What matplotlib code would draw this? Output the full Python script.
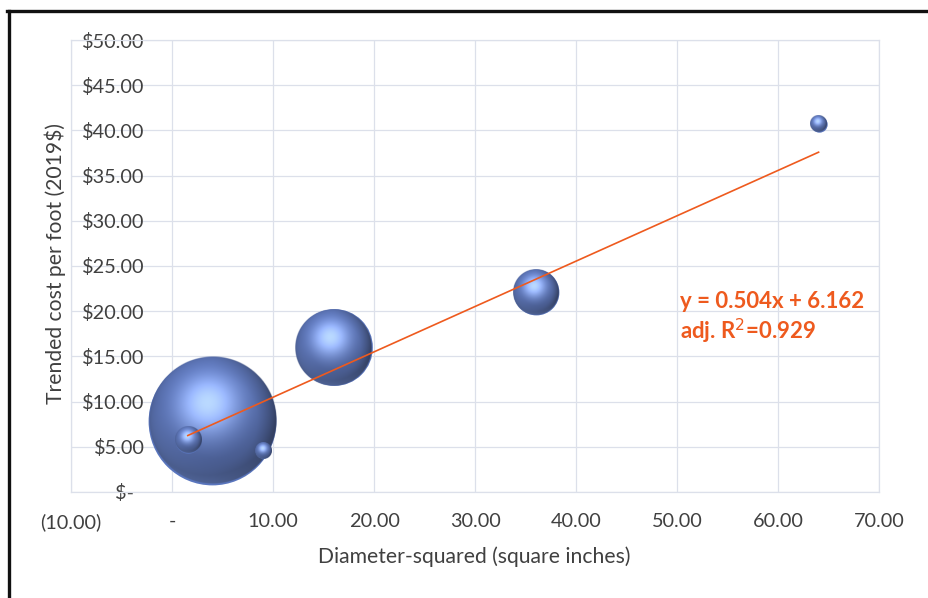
import numpy as np
import matplotlib
matplotlib.use('Agg')
import matplotlib.pyplot as plt
from matplotlib.lines import Line2D

plt.rcParams['font.family'] = ['Lato', 'DejaVu Sans']

# pipe diameter squared vs trended cost, bubble size = relative weight
diam_sq = [4.0, 1.5625, 9.0, 16.0, 36.0, 64.0]
cost_per_foot = [7.9, 5.8, 4.6, 16.0, 22.1, 40.7]
bubble_size = [60.7, 2.6, 1.0, 21.9, 7.8, 1.0]

# trendline as drawn on the chart, and the label printed next to it
trend_slope = 0.502
trend_intercept = 5.46
eq_text = 'y = 0.504x + 6.162'
r2_text = 'adj. R$^2$=0.929'

x_ticks = [-10, 0, 10, 20, 30, 40, 50, 60, 70]
x_tick_labels = ['(10.00)', '-', '10.00', '20.00', '30.00', '40.00', '50.00', '60.00', '70.00']
y_ticks = [0, 5, 10, 15, 20, 25, 30, 35, 40, 45, 50]
y_tick_labels = ['$-  ', '$5.00', '$10.00', '$15.00', '$20.00', '$25.00',
                 '$30.00', '$35.00', '$40.00', '$45.00', '$50.00']

text_col = '#404040'
grid_col = '#DCE0EA'
orange = '#EE5A1E'


def sphere_rgba(n=240):
    # shaded ball like excel's 3-D bubble
    yy, xx = np.mgrid[1:-1:n * 1j, -1:1:n * 1j]
    rr = np.sqrt(xx ** 2 + yy ** 2)
    z = np.sqrt(np.clip(1 - rr ** 2, 0, 1))
    L = np.array([-0.15, 0.5, 0.85])
    L = L / np.linalg.norm(L)
    diff = np.clip(xx * L[0] + yy * L[1] + z * L[2], 0, 1)
    H = L + np.array([0, 0, 1.0])
    H = H / np.linalg.norm(H)
    spec = np.clip(xx * H[0] + yy * H[1] + z * H[2], 0, 1) ** 9
    base = np.array([0.38, 0.48, 0.75])
    col = base * (0.62 + 0.42 * diff)[..., None] + np.array([0.34, 0.36, 0.36]) * spec[..., None]
    # lighter band along the lower left rim
    glow = np.clip(-yy - 0.3 * xx, 0, 1) * np.clip(rr - 0.6, 0, 1) * 0.5
    col = col + glow[..., None] * np.array([0.35, 0.42, 0.55])
    # darker, greyer right edge
    shade = np.clip(xx, 0, 1) * np.clip(rr - 0.7, 0, 1) * 0.75
    col = col * (1 - shade)[..., None] + shade[..., None] * 0.08
    col = np.clip(col, 0, 1)
    alpha = np.clip((1 - rr) * n / 2, 0, 1)
    return np.dstack([col, alpha])


fig = plt.figure(figsize=(9.29, 5.98), dpi=100)
ax = fig.add_axes([0.0764, 0.1773, 0.87, 0.7558])
ax.set_xlim(-10, 70)
ax.set_ylim(0, 50)

ax.set_xticks(x_ticks)
ax.set_xticklabels(x_tick_labels)
ax.set_yticks(y_ticks)
ax.set_yticklabels(y_tick_labels)
ax.grid(True, color=grid_col, linewidth=0.9)
ax.set_axisbelow(True)
for sp in ax.spines.values():
    sp.set_color(grid_col)
    sp.set_linewidth(0.9)
ax.tick_params(axis='x', length=0, labelsize=14.3, colors=text_col, pad=15)
# y labels sit next to the x=0 line, inside the plot area
ax.tick_params(axis='y', length=0, labelsize=14.3, colors=text_col, pad=-53)

# bubbles, largest first so the small ones end up on top
scale = 139.5
order = np.argsort(bubble_size)[::-1]
px_x = ax.transData.transform((1, 0))[0] - ax.transData.transform((0, 0))[0]
px_y = ax.transData.transform((0, 1))[1] - ax.transData.transform((0, 0))[1]
ball = sphere_rgba()
z = 3
for i in order:
    s = bubble_size[i] * scale
    ax.scatter(diam_sq[i], cost_per_foot[i], s=s, color='#5A76BE', linewidth=0, zorder=z)
    r_px = np.sqrt(s) / 2 * fig.dpi / 72
    rx = r_px / px_x
    ry = r_px / px_y
    ax.imshow(ball, extent=(diam_sq[i] - rx, diam_sq[i] + rx, cost_per_foot[i] - ry, cost_per_foot[i] + ry),
              zorder=z + 0.5, aspect='auto', interpolation='bilinear')
    z += 1
ax.set_xlim(-10, 70)
ax.set_ylim(0, 50)

tx = np.array([min(diam_sq), max(diam_sq)])
ax.plot(tx, trend_slope * tx + trend_intercept, color=orange, linewidth=1.2, zorder=20)

ax.text(50.3, 21.1, eq_text, color=orange, fontsize=16, fontweight='bold', va='center', ha='left', zorder=21)
ax.text(50.3, 17.8, r2_text, color=orange, fontsize=16, fontweight='bold', va='center', ha='left', zorder=21)

fig.text(474 / 929, 1 - 557 / 598, 'Diameter-squared (square inches)', ha='center', va='center',
         fontsize=15.2, color=text_col)
fig.text(55 / 929, 1 - 264 / 598, 'Trended cost per foot (2019$)', ha='center', va='center',
         rotation=90, fontsize=15.2, color=text_col)

# black frame on the left and top like the scanned page
fig.add_artist(Line2D([8.5 / 929, 8.5 / 929], [0, 1 - 11 / 598], transform=fig.transFigure, color='#111111', linewidth=2.4))
fig.add_artist(Line2D([7.5 / 929, 1], [1 - 11 / 598, 1 - 11 / 598], transform=fig.transFigure, color='#111111', linewidth=2.4))

fig.savefig('out.png', dpi=100)
